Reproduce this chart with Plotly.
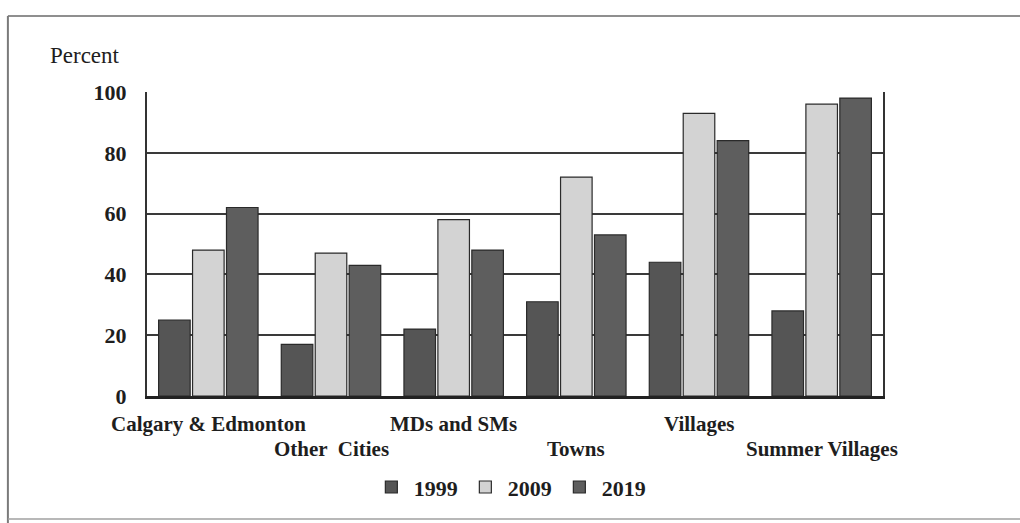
import plotly.graph_objects as go

# Share of municipalities, by municipality type and year (percent)
categories = ["Calgary & Edmonton", "Other  Cities", "MDs and SMs",
              "Towns", "Villages", "Summer Villages"]
years = ["1999", "2009", "2019"]
values_1999 = [25, 17, 22, 31, 44, 28]
values_2009 = [48, 47, 58, 72, 93, 96]
values_2019 = [62, 43, 48, 53, 84, 98]
y_ticks = [0, 20, 40, 60, 80, 100]

series = [values_1999, values_2009, values_2019]
fills = ["#555555", "#d3d3d3", "#5e5e5e"]

SERIF = "Liberation Serif, Times New Roman, serif"
INK = "#1e1e1e"

fig = go.Figure()
for name, vals, fill in zip(years, series, fills):
    fig.add_trace(go.Bar(
        name=name, x=categories, y=vals,
        marker=dict(color=fill, line=dict(color="#2a2a2a", width=1.2)),
    ))

# category labels, alternating between an upper and a lower row
for i, cat in enumerate(categories):
    fig.add_annotation(
        x=i, xref="x", y=-0.092 if i % 2 == 0 else -0.174, yref="paper",
        text=cat, showarrow=False, xanchor="center", yanchor="middle",
        font=dict(family=SERIF, size=21, color=INK, weight="bold"),
    )

fig.add_annotation(
    x=-0.034, xref="paper", y=1.12, yref="paper", text="Percent",
    showarrow=False, xanchor="right", yanchor="middle",
    font=dict(family=SERIF, size=23, color=INK),
)

# outer frame around the whole figure
frame = dict(type="line", xref="paper", yref="paper", layer="below")
fig.add_shape(**frame, x0=-0.189, x1=1.25, y0=1.25, y1=1.25,
              line=dict(color="#6a6a6a", width=1.5))
fig.add_shape(**frame, x0=-0.189, x1=-0.189, y0=1.25, y1=-0.42,
              line=dict(color="#7a7a7a", width=2))
fig.add_shape(**frame, x0=-0.189, x1=1.25, y0=-0.405, y1=-0.405,
              line=dict(color="#a0a0a0", width=1.5))

fig.update_layout(
    width=1020, height=523,
    margin=dict(l=147, r=137, t=92, b=127),
    paper_bgcolor="white", plot_bgcolor="white",
    barmode="group", bargap=0.17, bargroupgap=0.07,
    font=dict(family=SERIF, color=INK),
    showlegend=True,
    legend=dict(
        orientation="h", x=0.493, xanchor="center", y=-0.30, yanchor="middle",
        font=dict(family=SERIF, size=22, color=INK, weight="bold"),
        itemwidth=35, traceorder="normal",
        entrywidth=44, entrywidthmode="pixels",
    ),
    xaxis=dict(
        type="category", range=[-0.5, 5.5],
        showticklabels=False, showgrid=False, ticks="",
        showline=True, linecolor="#222222", linewidth=3, mirror=False,
    ),
    yaxis=dict(
        range=[0, 100], tickvals=y_ticks, ticktext=[str(v) for v in y_ticks],
        tickfont=dict(family=SERIF, size=22, color=INK, weight="bold"),
        ticklabelstandoff=14,
        showgrid=True, gridcolor="#3a3a3a", gridwidth=1.5,
        showline=True, linecolor="#333333", linewidth=2, mirror=True,
        zeroline=False, ticks="",
    ),
)

fig.write_html("out.html")
